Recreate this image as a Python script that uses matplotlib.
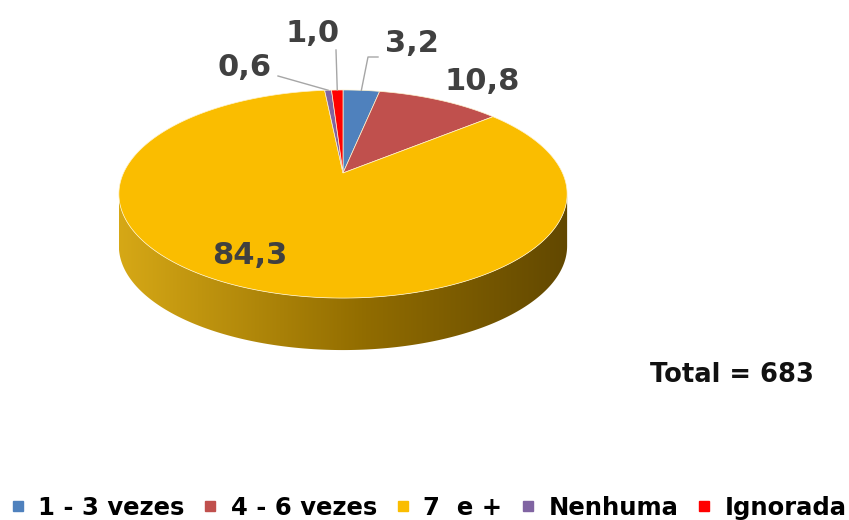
import numpy as np
import matplotlib
matplotlib.use("Agg")
import matplotlib.pyplot as plt
from matplotlib.patches import Polygon
from matplotlib.lines import Line2D

# data
categories = ['1 - 3 vezes', '4 - 6 vezes', '7  e +', 'Nenhuma', 'Ignorada']
percents = [3.2, 10.8, 84.3, 0.6, 1.0]
total = 683

top_colors = ['#4f81bd', '#c0504d', '#fabd00', '#8064a2', '#ff0000']
label_color = '#404040'

# geometry of the tilted pie (pixel units), simple perspective of a disc
xc, yc = 343, 173      # pie centre as seen on screen
A, K = 219.5, 99.8     # horizontal / vertical radius scale
p = 0.202              # perspective strength (far side smaller)
depth = 52

# label anchors (text centre) per slice
label_pos = [(412, 43), (482, 82), (250, 255), (245, 67), (313, 33)]
# end point of the leader line next to the text, None = no leader
leader_end = [(368, 57), None, None, (278, 76), (336, 50)]


def rim(theta, dy=0.0):
    t = np.radians(theta)
    u, v = np.sin(t), np.cos(t)
    s = 1.0 / (1.0 + p * v)
    return xc + A * u * s, yc - K * v * s + dy


fig = plt.figure(figsize=(8.49, 5.2), dpi=100)
ax = fig.add_axes([0, 0, 1, 1])

# side wall, between the two silhouette points of the rim
tw = np.degrees(np.arccos(-p))
th = np.linspace(tw, 360 - tw, 300)
xt, yt = rim(th)
xb, yb = rim(th[::-1], depth)
side = Polygon(np.column_stack([np.r_[xt, xb], np.r_[yt, yb]]),
               closed=True, facecolor='none', edgecolor='none')
ax.add_patch(side)
grad = np.linspace(0, 1, 256)[:, None]
c0 = np.array([214, 168, 22]) / 255
c1 = np.array([145, 108, 0]) / 255
c2 = np.array([98, 72, 0]) / 255
rgb = np.where(grad < 0.55, c0 + (c1 - c0) * (grad / 0.55),
               c1 + (c2 - c1) * ((grad - 0.55) / 0.45))
x0, x1 = xt.min(), xt.max()
img = ax.imshow(rgb[None, :, :], extent=[x0, x1, yb.max() + 2, yt.min() - 2],
                aspect='auto', interpolation='bilinear', zorder=1)
img.set_clip_path(side)

# top face
start = 0.0
mids = []
tot = sum(percents)
for val, col in zip(percents, top_colors):
    span = 360.0 * val / tot
    a = np.linspace(start, start + span, max(int(span * 2), 3))
    x, y = rim(a)
    poly = Polygon(np.column_stack([np.r_[xc, x], np.r_[yc, y]]),
                   closed=True, facecolor=col, edgecolor='#fff4d0', lw=0.5, zorder=2)
    ax.add_patch(poly)
    mids.append(start + span / 2)
    start += span

# labels and leader lines
for val, mid, pos, end in zip(percents, mids, label_pos, leader_end):
    txt = f'{val:.1f}'.replace('.', ',')
    ax.text(pos[0], pos[1], txt, ha='center', va='center', fontsize=22,
            fontweight='bold', color=label_color, zorder=4)
    if end is not None:
        sx, sy = rim(mid)
        if end[0] > sx + 5:
            ax.plot([sx, end[0], end[0] + 10], [sy, end[1], end[1]],
                    color='#a6a6a6', lw=1, zorder=3)
        else:
            ax.plot([sx, end[0]], [sy, end[1]], color='#a6a6a6', lw=1, zorder=3)

ax.text(732, 375, f'Total = {total}', ha='center', va='center', fontsize=18.5,
        fontweight='bold', color='#111111')

ax.set_xlim(0, 849)
ax.set_ylim(520, 0)
ax.axis('off')

handles = [Line2D([], [], marker='s', linestyle='none', markersize=7.5,
                  markerfacecolor=c, markeredgecolor=c) for c in top_colors]
fig.legend(handles, categories, loc='center', bbox_to_anchor=(429 / 849, 1 - 508 / 520),
           ncol=5, frameon=False, handlelength=0.5, handletextpad=0.6,
           columnspacing=0.8, prop={'weight': 'bold', 'size': 17.5})

fig.savefig('out.png', dpi=100)
